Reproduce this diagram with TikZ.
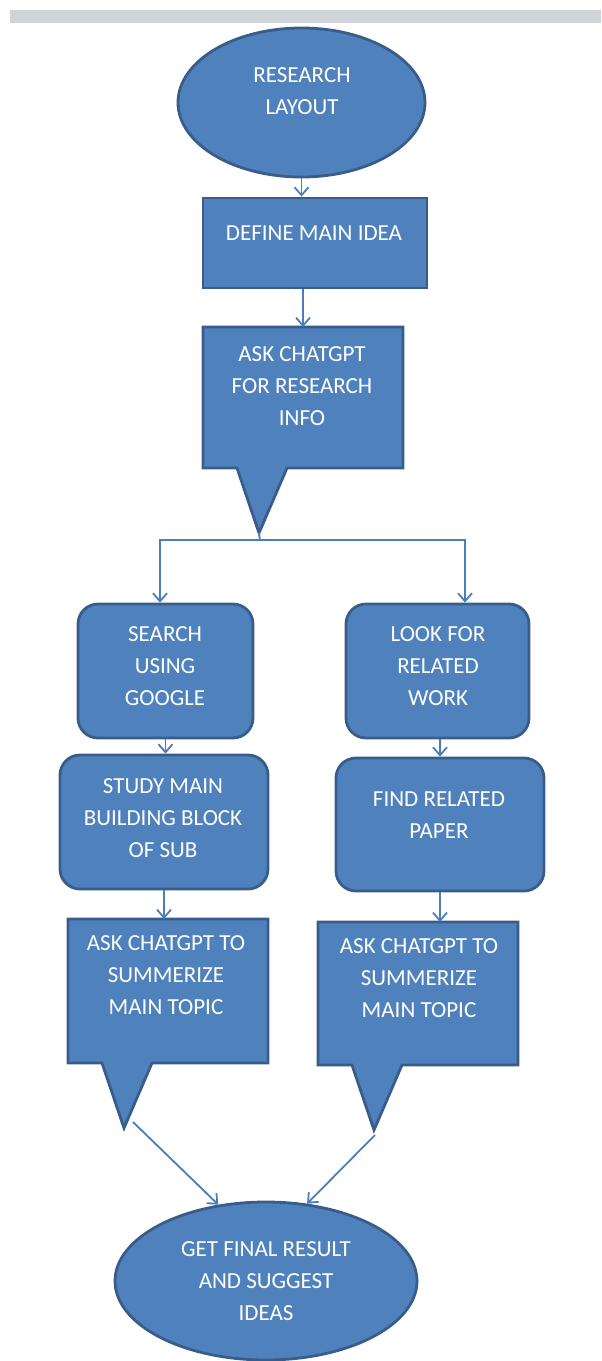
\documentclass[tikz,border=0pt]{standalone}
\usepackage{fontspec}
\setmainfont{Carlito}
\usepackage{tikz}
\usetikzlibrary{arrows.meta}
\usetikzlibrary{shapes}
\usetikzlibrary{calc}
\definecolor{boxblue}{HTML}{4F81BD}
\definecolor{boxedge}{HTML}{385D8A}
\definecolor{linkblue}{HTML}{4A7EBB}
\definecolor{bargray}{HTML}{D0D3D7}
\tikzstyle{blob}=[ellipse, draw=boxedge, fill=boxblue, line width=1.4pt]
\tikzstyle{plain}=[rectangle, draw=boxedge, fill=boxblue, line width=1.4pt]
\tikzstyle{roundbox}=[plain, rounded corners=10pt]
\tikzstyle{ghost}=[rectangle, inner sep=0pt, outer sep=0pt]
\tikzstyle{words}=[text=white, align=center, inner sep=0pt, font=\fontsize{11.5}{16}\selectfont]
\tikzstyle{flow}=[draw=linkblue, line width=0.9pt, -{Straight Barb[length=4pt,width=7pt]}]
\newcommand{\speechBox}[4]{
	\node[ghost, minimum width=#3pt, minimum height=#4pt] (#1) at #2 {};
	\draw[plain] (#1.north west) -- (#1.north east) -- (#1.south east) -- ($(#1.south west)+(84,0)$) -- ($(#1.south west)+(56,65)$) -- ($(#1.south west)+(34,0)$) -- (#1.south west) -- cycle;
	\coordinate (#1 tip) at ($(#1.south west)+(56,65)$);
}

\begin{document}
\begin{tikzpicture}[x=0.5pt,y=-0.5pt]
	\useasboundingbox (0,0) rectangle (601,1361);
	\fill[bargray] (10,10) rectangle (601,23);
	\node[blob, minimum width=123.5pt, minimum height=74.5pt] (start) at (301.5,102.5) {};
	\node[words] (startT) at (302,91) {RESEARCH\\LAYOUT};
	\node[plain, minimum width=112pt, minimum height=45pt] (define) at (315,243) {};
	\node[words] (defineT) at (314,233) {DEFINE MAIN IDEA};
	\speechBox{askInfo}{(303,397.5)}{100}{70.5}
	\node[words] (askInfoT) at (302,386) {ASK CHATGPT\\FOR RESEARCH\\INFO};
	\node[roundbox, minimum width=87.5pt, minimum height=67pt] (search) at (165.5,671) {};
	\node[words] (searchT) at (165,666) {SEARCH\\USING\\GOOGLE};
	\node[roundbox, minimum width=91.5pt, minimum height=67pt] (look) at (437.5,671) {};
	\node[words] (lookT) at (438,666) {LOOK FOR\\RELATED\\WORK};
	\node[roundbox, minimum width=104pt, minimum height=67pt] (study) at (164,822) {};
	\node[words] (studyT) at (163,818) {STUDY MAIN\\BUILDING BLOCK\\OF SUB};
	\node[roundbox, minimum width=104pt, minimum height=66.5pt] (find) at (440,824.5) {};
	\node[words] (findT) at (439,815.5) {FIND RELATED\\PAPER};
	\speechBox{askLeft}{(168,991)}{100}{72}
	\node[words] (askLeftT) at (166,975) {ASK CHATGPT TO\\SUMMERIZE\\MAIN TOPIC};
	\speechBox{askRight}{(418,993.5)}{100}{71.5}
	\node[words] (askRightT) at (419,978) {ASK CHATGPT TO\\SUMMERIZE\\MAIN TOPIC};
	\node[blob, minimum width=151pt, minimum height=79pt] (finish) at (266,1281) {};
	\node[words] (finishT) at (266,1281) {GET FINAL RESULT\\AND SUGGEST\\IDEAS};
	\coordinate (fork) at (260,540);
	\coordinate (leftOut) at (133,1122);
	\coordinate (rightOut) at (375,1135);
	\draw[flow] (start.south) -- (start.south |- define.north);
	\draw[flow] (define.south -| askInfo.north) -- (askInfo.north);
	\draw[draw=linkblue, line width=0.9pt] (askInfo tip) -- (fork);
	\draw[flow] (fork) -| ([xshift=-2.75pt]search.north);
	\draw[flow] (fork) -| ([xshift=13.75pt]look.north);
	\draw[flow] (search.south) -- (search.south |- study.north);
	\draw[flow] (find.north |- look.south) -- (find.north);
	\draw[flow] (study.south) -- (study.south |- askLeft.north);
	\draw[flow] (find.south) -- (find.south |- askRight.north);
	\draw[flow] (leftOut) -- (finish.122);
	\draw[flow] (rightOut) -- (finish.62);
\end{tikzpicture}
\end{document}
